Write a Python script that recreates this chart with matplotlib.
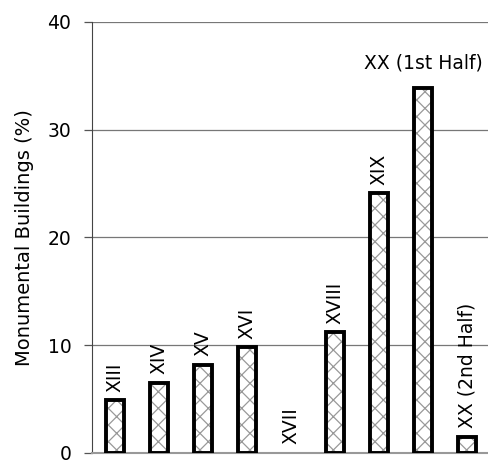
import matplotlib.pyplot as plt

# Data
centuries = ["XIII", "XIV", "XV", "XVI", "XVII", "XVIII", "XIX",
             "XX (1st Half)", "XX (2nd Half)"]
share = [4.9, 6.5, 8.2, 9.8, 0.0, 11.2, 24.1, 33.9, 1.5]

plt.rcParams['font.family'] = ['DejaVu Sans']
plt.rcParams['hatch.linewidth'] = 0.9

fig = plt.figure(figsize=(4.88, 4.62), dpi=100)
ax = fig.add_axes([0.189, 0.0195, 0.811, 0.933])

x = list(range(len(centuries)))
# hatch fill in gray, then black outline on top (no outline for empty bars)
ax.bar(x, share, width=0.41, color='white', edgecolor='#999999',
       linewidth=0, hatch='xx', zorder=3)
edge_w = [2.8 if v > 0 else 0 for v in share]
ax.bar(x, share, width=0.41, color='none', edgecolor='black',
       linewidth=edge_w, zorder=4)

# labels above each bar
for xi, v, name in zip(x, share, centuries):
    if name == "XX (1st Half)":
        ax.text(xi, v + 1.4, name, ha='center', va='bottom', fontsize=13.5)
    else:
        ax.text(xi, v + 0.8, name, ha='center', va='bottom',
                rotation=90, fontsize=13.5)

ax.set_xlim(-0.52, 8.48)
ax.set_ylim(0, 40)
ax.set_yticks([0, 10, 20, 30, 40])
ax.yaxis.grid(True, color='#777777', linewidth=0.9, zorder=0)
ax.set_xticks([])
ax.tick_params(axis='y', labelsize=13.5, length=6, width=0.9, color='#555555', pad=9)
ax.set_ylabel('Monumental Buildings (%)', fontsize=14, labelpad=10)

ax.spines['top'].set_visible(False)
ax.spines['right'].set_visible(False)
ax.spines['left'].set_color('#444444')
ax.spines['bottom'].set_color('#999999')
ax.spines['bottom'].set_linewidth(1.5)

fig.savefig('out.png', dpi=100)
